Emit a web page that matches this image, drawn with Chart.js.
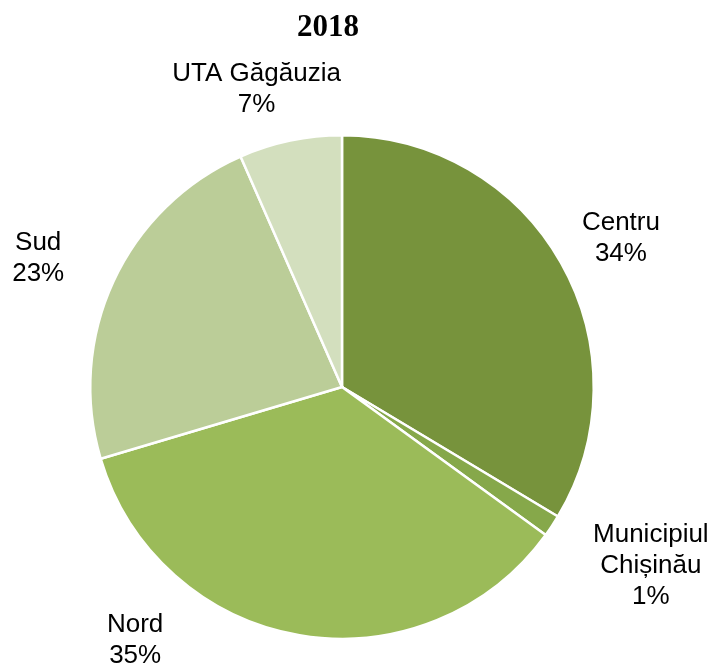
<!DOCTYPE html>
<html>
<head>
<meta charset="utf-8">
<script src="https://cdn.jsdelivr.net/npm/chart.js@4"></script>
<style>
html,body{margin:0;padding:0;background:#fff;}
#wrap{width:713px;height:664px;position:relative;}
</style>
</head>
<body>
<div id="wrap"><canvas id="c" width="713" height="664"></canvas></div>
<script>
const title = "2018";
const categories = ["Centru", "Municipiul Chișinău", "Nord", "Sud", "UTA Găgăuzia"];
const labelLines = [["Centru"], ["Municipiul", "Chișinău"], ["Nord"], ["Sud"], ["UTA Găgăuzia"]];
const shares = [33.6, 1.4, 35.4, 23.0, 6.6];
const colors = ["#77933C", "#86A84A", "#9BBB59", "#BBCD98", "#D3DFBE"];
// label placement: angle (deg, clockwise from top) and distance in radius units
const labelPos = [[61.9, 1.256], [120.1, 1.418], [219.2, 1.30], [292.9, 1.31], [344, 1.231]];

const labelPlugin = {
  id: 'labels',
  afterDraw(chart) {
    const ctx = chart.ctx;
    const meta = chart.getDatasetMeta(0);
    const arc = meta.data[0];
    const cx = arc.x, cy = arc.y, R = arc.outerRadius;
    ctx.save();
    ctx.fillStyle = '#000';
    ctx.textAlign = 'center';
    ctx.textBaseline = 'middle';
    ctx.font = 'bold 31px "Liberation Serif", "Times New Roman", serif';
    ctx.fillText(title, cx - 14, 28);
    ctx.font = '26px "Liberation Sans", Arial, sans-serif';
    const total = shares.reduce((a, b) => a + b, 0);
    const lh = 31;
    shares.forEach((v, i) => {
      const [ang, f] = labelPos[i];
      const a = ang * Math.PI / 180;
      const x = cx + Math.sin(a) * R * f;
      const y = cy - Math.cos(a) * R * f;
      const lines = labelLines[i].concat([Math.round(v / total * 100) + '%']);
      const y0 = y - (lines.length - 1) * lh / 2;
      lines.forEach((t, k) => ctx.fillText(t, x, y0 + k * lh));
    });
    ctx.restore();
  }
};

new Chart(document.getElementById('c'), {
  type: 'pie',
  data: {
    labels: categories,
    datasets: [{
      data: shares,
      backgroundColor: colors,
      borderColor: '#ffffff',
      borderWidth: 2.5
    }]
  },
  options: {
    responsive: false,
    animation: false,
    layout: { padding: { top: 134, bottom: 24, left: 89, right: 118 } },
    plugins: {
      legend: { display: false },
      tooltip: { enabled: false },
      title: { display: false }
    }
  },
  plugins: [labelPlugin]
});
</script>
</body>
</html>
